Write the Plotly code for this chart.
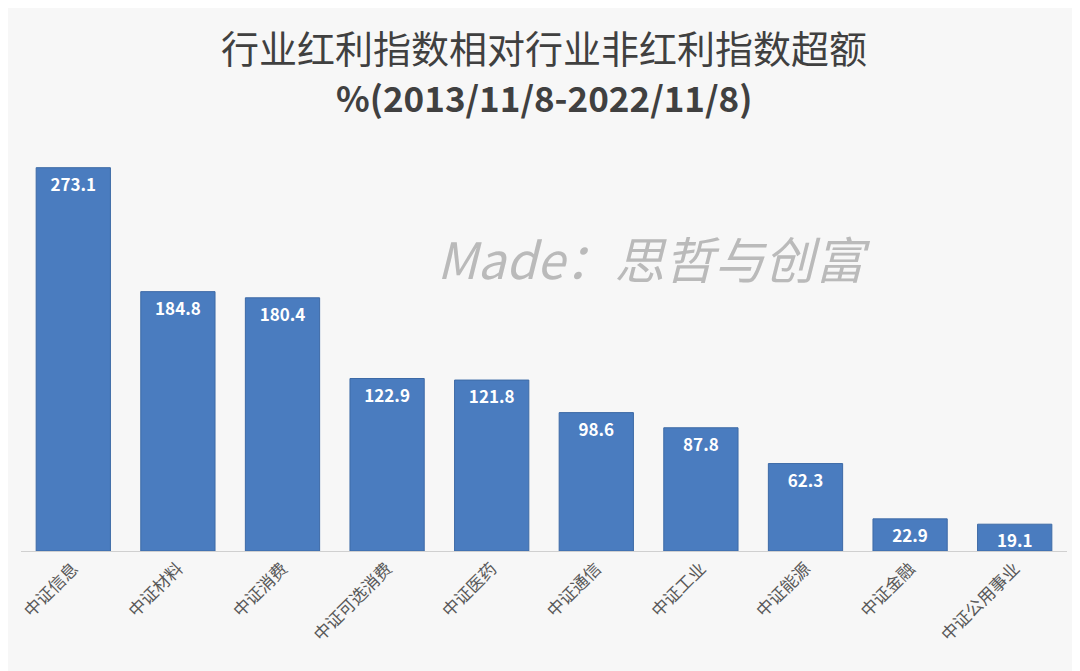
import plotly.graph_objects as go

categories = ["中证信息", "中证材料", "中证消费", "中证可选消费", "中证医药",
              "中证通信", "中证工业", "中证能源", "中证金融", "中证公用事业"]
values = [273.1, 184.8, 180.4, 122.9, 121.8, 98.6, 87.8, 62.3, 22.9, 19.1]

T, B, H = 143, 128, 671

fig = go.Figure()
fig.add_trace(go.Bar(
    x=categories, y=values,
    marker=dict(color="#4a7cbf", line=dict(color="#3d6aa6", width=1)),
    width=0.71,
    text=[f"<b>{v:.1f}</b>" for v in values],
    textposition="inside", insidetextanchor="end",
    textfont=dict(color="white", size=17, family="Noto Sans CJK SC"),
))

# watermark
fig.add_annotation(
    x=0.605, y=0.83, xref="paper", yref="paper",
    text="<i>Made：思哲与创富</i>", showarrow=False,
    font=dict(size=50, color="rgba(160,160,160,0.7)", family="Noto Sans CJK SC"),
)
# title lines
for txt, ypix, size in [("行业红利指数相对行业非红利指数超额", 38, 38),
                        ("<b>%(2013/11/8-2022/11/8)</b>", 88, 35)]:
    fig.add_annotation(x=0.5, xref="paper", yref="paper",
                       y=1 + (T - ypix) / (H - T - B), yanchor="middle",
                       text=txt, showarrow=False,
                       font=dict(size=size, color="#404040", family="Noto Sans CJK SC"))

fig.update_layout(
    width=1080, height=H,
    margin=dict(l=9, r=21, t=T, b=B),
    paper_bgcolor="#f7f7f7", plot_bgcolor="rgba(0,0,0,0)",
    showlegend=False, bargap=0.29,
    uniformtext=dict(minsize=17, mode="show"),
)
fig.update_xaxes(tickangle=-45, showline=True, linecolor="#d0d0d0",
                 tickfont=dict(size=17, color="#595959", family="Noto Sans CJK SC"))
fig.update_yaxes(visible=False, range=[0, 285])

fig.write_html("out.html")
